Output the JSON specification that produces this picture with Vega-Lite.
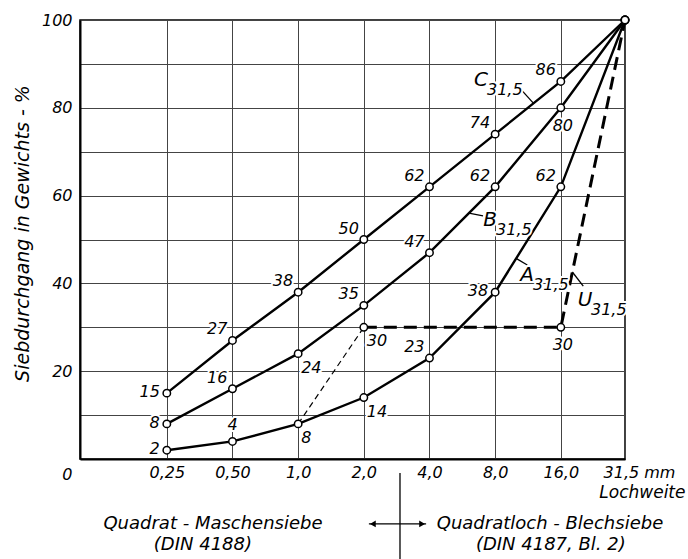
{
  "$schema": "https://vega.github.io/schema/vega-lite/v6.json",
  "width": 545,
  "height": 439,
  "autosize": {"type": "none"},
  "padding": {"left": 80, "top": 20, "right": 63, "bottom": 100},
  "background": "white",
  "config": {
    "view": {"stroke": "black", "strokeWidth": 1.5},
    "font": "DejaVu Sans",
    "text": {"font": "DejaVu Sans", "fontStyle": "italic", "color": "black"}
  },
  "datasets": {
    "curves": [
      {"series": "C", "size": 0.25, "pass": 15}, {"series": "C", "size": 0.5, "pass": 27}, {"series": "C", "size": 1, "pass": 38}, {"series": "C", "size": 2, "pass": 50},
      {"series": "C", "size": 4, "pass": 62}, {"series": "C", "size": 8, "pass": 74}, {"series": "C", "size": 16, "pass": 86}, {"series": "C", "size": 31.5, "pass": 100},
      {"series": "B", "size": 0.25, "pass": 8}, {"series": "B", "size": 0.5, "pass": 16}, {"series": "B", "size": 1, "pass": 24}, {"series": "B", "size": 2, "pass": 35},
      {"series": "B", "size": 4, "pass": 47}, {"series": "B", "size": 8, "pass": 62}, {"series": "B", "size": 16, "pass": 80}, {"series": "B", "size": 31.5, "pass": 100},
      {"series": "A", "size": 0.25, "pass": 2}, {"series": "A", "size": 0.5, "pass": 4}, {"series": "A", "size": 1, "pass": 8}, {"series": "A", "size": 2, "pass": 14},
      {"series": "A", "size": 4, "pass": 23}, {"series": "A", "size": 8, "pass": 38}, {"series": "A", "size": 16, "pass": 62}, {"series": "A", "size": 31.5, "pass": 100},
      {"series": "U", "size": 2, "pass": 30}, {"series": "U", "size": 16, "pass": 30}, {"series": "U", "size": 31.5, "pass": 100},
      {"series": "Ut", "size": 1, "pass": 8}, {"series": "Ut", "size": 2, "pass": 30}
    ],
    "names": [
      {"name": "C", "size": 6.89, "pass": 86.3},
      {"name": "B", "size": 7.58, "pass": 54.4},
      {"name": "A", "size": 11.2, "pass": 41.9},
      {"name": "U", "size": 20.65, "pass": 36.3}
    ],
    "segs": [
      {"size": 10.5, "pass": 84.2, "size2": 12, "pass2": 81.0},
      {"size": 6.06, "pass": 56, "size2": 7.04, "pass2": 55.4},
      {"size": 9.98, "pass": 45.7, "size2": 11.23, "pass2": 44.2},
      {"size": 18.07, "pass": 42.6, "size2": 20.28, "pass2": 39.4},
      {"size": 2.93, "pass": -3.2, "size2": 2.93, "pass2": -23},
      {"size": 2.11, "pass": -14.8, "size2": 3.86, "pass2": -14.8}
    ],
    "arrowheads": [
      {"size": 2.2, "pass": -14.8},
      {"size": 3.7, "pass": -14.8}
    ],
    "captions": [
      {"text": "Quadrat - Maschensiebe", "size": 0.407, "pass": -14.8},
      {"text": "(DIN 4188)", "size": 0.366, "pass": -19.6},
      {"text": "Quadratloch - Blechsiebe", "size": 14.27, "pass": -14.8},
      {"text": "(DIN 4187, Bl. 2)", "size": 14.4, "pass": -19.6}
    ]
  },
  "encoding": {
    "x": {
      "field": "size", "type": "quantitative",
      "scale": {"type": "log", "base": 2, "domain": [0.1, 31.5], "nice": false, "zero": false},
      "axis": {
        "values": [0.25, 0.5, 1, 2, 4, 8, 16, 31.5],
        "labelExpr": "datum.value == 0.25 ? '0,25' : datum.value == 0.5 ? '0,50' : datum.value == 31.5 ? '31,5 mm' : replace(format(datum.value, '.1f'), '.', ',')",
        "title": "Lochweite",
        "titleX": 605, "titleY": 33, "titleAlign": "right", "titleBaseline": "middle",
        "titleFont": "DejaVu Sans", "titleFontStyle": "italic", "titleFontWeight": "normal", "titleFontSize": 17, "titleColor": "black",
        "grid": true, "gridColor": "#444", "gridWidth": 1,
        "ticks": false, "domainColor": "black", "domainWidth": 2,
        "labelPadding": 5, "labelFont": "DejaVu Sans", "labelFontSize": 16, "labelFontStyle": "italic", "labelColor": "black",
        "labelFlush": false, "labelOverlap": false, "labelBound": false,
        "labelOffset": {"condition": {"test": "datum.value == 31.5", "value": 14}, "value": 0}
      }
    },
    "y": {
      "field": "pass", "type": "quantitative",
      "scale": {"domain": [0, 100], "nice": false, "zero": false},
      "axis": {
        "values": [0, 10, 20, 30, 40, 50, 60, 70, 80, 90, 100],
        "labelExpr": "datum.value % 20 == 0 ? datum.label : ''",
        "title": "Siebdurchgang in Gewichts - %",
        "titleX": -58, "titleY": 213, "titleAngle": -90, "titleAlign": "center", "titleBaseline": "middle",
        "titleFont": "DejaVu Sans", "titleFontStyle": "italic", "titleFontWeight": "normal", "titleFontSize": 19, "titleColor": "black",
        "grid": true, "gridColor": "#444", "gridWidth": 1,
        "ticks": false, "domainColor": "black", "domainWidth": 2,
        "labelPadding": 8, "labelFont": "DejaVu Sans", "labelFontSize": 16, "labelFontStyle": "italic", "labelColor": "black",
        "labelOverlap": false, "labelBound": false, "labelFlush": false,
        "labelOffset": {"condition": {"test": "datum.value == 0", "value": 15}, "value": 0}
      }
    }
  },
  "layer": [
    {
      "data": {"name": "curves"},
      "transform": [{"filter": "datum.series == 'A' || datum.series == 'B' || datum.series == 'C'"}],
      "mark": {"type": "line", "color": "black", "strokeWidth": 2.4},
      "encoding": {"detail": {"field": "series"}}
    },
    {
      "data": {"name": "curves"},
      "transform": [{"filter": "datum.series == 'U'"}],
      "mark": {"type": "line", "color": "black", "strokeWidth": 3, "strokeDash": [13, 7]},
      "encoding": {}
    },
    {
      "data": {"name": "curves"},
      "transform": [{"filter": "datum.series == 'Ut'"}],
      "mark": {"type": "line", "color": "black", "strokeWidth": 1.2, "strokeDash": [6, 4]},
      "encoding": {}
    },
    {
      "data": {"name": "segs"},
      "mark": {"type": "rule", "color": "black", "strokeWidth": 1.3},
      "encoding": {"x2": {"field": "size2"}, "y2": {"field": "pass2"}}
    },
    {
      "data": {"name": "arrowheads"},
      "transform": [{"filter": "datum.size < 3"}],
      "mark": {"type": "point", "shape": "triangle-left", "filled": true, "color": "black", "opacity": 1, "size": 45},
      "encoding": {}
    },
    {
      "data": {"name": "arrowheads"},
      "transform": [{"filter": "datum.size > 3"}],
      "mark": {"type": "point", "shape": "triangle-right", "filled": true, "color": "black", "opacity": 1, "size": 45},
      "encoding": {}
    },
    {
      "data": {"name": "curves"},
      "transform": [{"filter": "datum.series != 'Ut'"}],
      "mark": {"type": "point", "filled": true, "fill": "white", "stroke": "black", "strokeWidth": 1.5, "opacity": 1, "size": 55},
      "encoding": {}
    },
    {
      "data": {"name": "curves"},
      "transform": [{"filter": "(datum.series == 'A' || datum.series == 'B' || datum.series == 'C') && (datum.size == 0.25 || (datum.series == 'A' && datum.size == 8))"}],
      "encoding": {"text": {"field": "pass", "type": "quantitative"}},
      "layer": [
        {"mark": {"type": "text", "fontSize": 16, "align": "right", "baseline": "middle", "dx": -7, "dy": -1, "stroke": "white", "strokeWidth": 4, "strokeJoin": "round"}},
        {"mark": {"type": "text", "fontSize": 16, "align": "right", "baseline": "middle", "dx": -7, "dy": -1}}
      ]
    },
    {
      "data": {"name": "curves"},
      "transform": [{"filter": "(datum.series == 'C' && datum.size > 0.25 && datum.size < 31.5) || (datum.series == 'B' && datum.size >= 0.5 && datum.size <= 8 && datum.size != 1) || (datum.series == 'A' && (datum.size == 4 || datum.size == 16))"}],
      "encoding": {"text": {"field": "pass", "type": "quantitative"}},
      "layer": [
        {"mark": {"type": "text", "fontSize": 16, "align": "right", "baseline": "middle", "dx": -5, "dy": -11, "stroke": "white", "strokeWidth": 4, "strokeJoin": "round"}},
        {"mark": {"type": "text", "fontSize": 16, "align": "right", "baseline": "middle", "dx": -5, "dy": -11}}
      ]
    },
    {
      "data": {"name": "curves"},
      "transform": [{"filter": "datum.series == 'A' && datum.size == 0.5"}],
      "encoding": {"text": {"field": "pass", "type": "quantitative"}},
      "layer": [
        {"mark": {"type": "text", "fontSize": 16, "align": "center", "baseline": "middle", "dx": 0, "dy": -16, "stroke": "white", "strokeWidth": 4, "strokeJoin": "round"}},
        {"mark": {"type": "text", "fontSize": 16, "align": "center", "baseline": "middle", "dx": 0, "dy": -16}}
      ]
    },
    {
      "data": {"name": "curves"},
      "transform": [{"filter": "(datum.series == 'B' && datum.size == 1) || (datum.series == 'A' && (datum.size == 1 || datum.size == 2)) || (datum.series == 'U' && datum.size == 2)"}],
      "encoding": {"text": {"field": "pass", "type": "quantitative"}},
      "layer": [
        {"mark": {"type": "text", "fontSize": 16, "align": "left", "baseline": "middle", "dx": 3, "dy": 14, "stroke": "white", "strokeWidth": 4, "strokeJoin": "round"}},
        {"mark": {"type": "text", "fontSize": 16, "align": "left", "baseline": "middle", "dx": 3, "dy": 14}}
      ]
    },
    {
      "data": {"name": "curves"},
      "transform": [{"filter": "(datum.series == 'B' && datum.size == 16) || (datum.series == 'U' && datum.size == 16)"}],
      "encoding": {"text": {"field": "pass", "type": "quantitative"}},
      "layer": [
        {"mark": {"type": "text", "fontSize": 16, "align": "center", "baseline": "middle", "dx": 2, "dy": 18, "stroke": "white", "strokeWidth": 4, "strokeJoin": "round"}},
        {"mark": {"type": "text", "fontSize": 16, "align": "center", "baseline": "middle", "dx": 2, "dy": 18}}
      ]
    },
    {
      "data": {"name": "names"},
      "layer": [
        {"mark": {"type": "text", "fontSize": 20, "align": "center", "baseline": "middle", "stroke": "white", "strokeWidth": 4, "strokeJoin": "round"}, "encoding": {"text": {"field": "name"}}},
        {"mark": {"type": "text", "fontSize": 20, "align": "center", "baseline": "middle"}, "encoding": {"text": {"field": "name"}}},
        {"mark": {"type": "text", "text": "31,5", "fontSize": 16, "align": "left", "baseline": "middle", "dx": 6, "dy": 10, "stroke": "white", "strokeWidth": 4, "strokeJoin": "round"}},
        {"mark": {"type": "text", "text": "31,5", "fontSize": 16, "align": "left", "baseline": "middle", "dx": 6, "dy": 10}}
      ]
    },
    {
      "data": {"name": "captions"},
      "mark": {"type": "text", "fontSize": 18, "align": "center", "baseline": "middle"},
      "encoding": {"text": {"field": "text"}}
    }
  ]
}
